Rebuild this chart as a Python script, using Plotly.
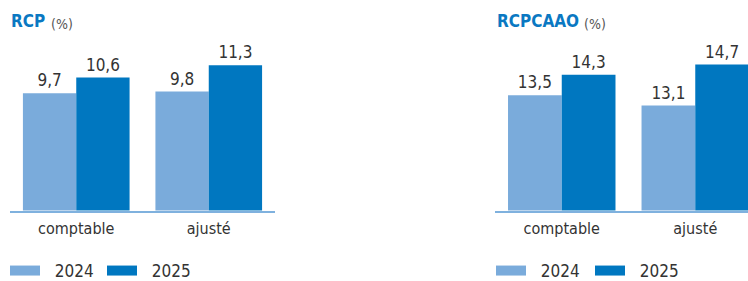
import plotly.graph_objects as go

categories = ["comptable", "ajusté"]
years = ["2024", "2025"]
rcp_2024 = [9.7, 9.8]
rcp_2025 = [10.6, 11.3]
rcpcaao_2024 = [13.5, 13.1]
rcpcaao_2025 = [14.3, 14.7]

colors = {"2024": "#7aabdb", "2025": "#0077c0"}
FONT = "DejaVu Sans Condensed, Liberation Sans Narrow, sans-serif"
TXT = "#333333"

fig = go.Figure()

panels = [
    ("x", "y", "legend", {"2024": rcp_2024, "2025": rcp_2025}),
    ("x2", "y2", "legend2", {"2024": rcpcaao_2024, "2025": rcpcaao_2025}),
]
for xa, ya, lg, series in panels:
    for yr in years:
        fig.add_trace(go.Bar(
            x=categories, y=series[yr], name=yr, xaxis=xa, yaxis=ya,
            marker=dict(color=colors[yr], line=dict(width=0)),
            texttemplate="%{y:.1f}", textposition="outside",
            textfont=dict(family=FONT, size=17, color=TXT),
            cliponaxis=False, showlegend=False,
        ))
    for yr in years:
        fig.add_trace(go.Scatter(
            x=[None], y=[None], name="\u00a0\u00a0" + yr, mode="lines", xaxis=xa, yaxis=ya,
            line=dict(color=colors[yr], width=13), legend=lg,
        ))

W, H = 748, 281
ybot = 1 - 210.5 / H
ytop = 1 - 40 / H
axcommon = dict(showgrid=False, zeroline=False, showline=True, linecolor="#7fb1de",
                linewidth=2, ticks="", tickfont=dict(family=FONT, size=16, color=TXT),
                ticklabelstandoff=2, fixedrange=True)
legcommon = dict(orientation="h", xanchor="left", y=-8 / H, yanchor="bottom",
                 font=dict(family=FONT, size=17, color=TXT), itemwidth=30,
                 entrywidthmode="pixels", bgcolor="rgba(0,0,0,0)")
fig.update_layout(
    width=W, height=H, margin=dict(l=0, r=0, t=0, b=0, autoexpand=False),
    paper_bgcolor="white", plot_bgcolor="white",
    separators=", ", barmode="group", bargap=0.195, bargroupgap=0,
    font=dict(family=FONT, color=TXT),
    xaxis=dict(domain=[10 / W, 275 / W], range=[-0.5, 1.5], **axcommon),
    xaxis2=dict(domain=[495 / W, 1], range=[-0.5, 1.395], anchor="y2", **axcommon),
    yaxis=dict(domain=[ybot, ytop], range=[3, 3 + 170.5 / 17.5], visible=False, fixedrange=True),
    yaxis2=dict(domain=[ybot, ytop], range=[9, 9 + 170.5 / 25.6], visible=False,
                fixedrange=True, anchor="x2"),
    legend=dict(x=5 / W, entrywidth=52, **legcommon),
    legend2=dict(x=491 / W, entrywidth=54, **legcommon),
    annotations=[
        dict(text="<b>RCP</b>", x=9 / W, y=1 - 21 / H, xref="paper", yref="paper",
             xanchor="left", yanchor="middle", showarrow=False,
             font=dict(family=FONT, size=17, color="#0a78c2")),
        dict(text="(%)", x=49 / W, y=1 - 24 / H, xref="paper", yref="paper",
             xanchor="left", yanchor="middle", showarrow=False,
             font=dict(family=FONT, size=14, color="#555555")),
        dict(text="<b>RCPCAAO</b>", x=495 / W, y=1 - 21 / H, xref="paper", yref="paper",
             xanchor="left", yanchor="middle", showarrow=False,
             font=dict(family=FONT, size=17, color="#0a78c2")),
        dict(text="(%)", x=582 / W, y=1 - 24 / H, xref="paper", yref="paper",
             xanchor="left", yanchor="middle", showarrow=False,
             font=dict(family=FONT, size=14, color="#555555")),
    ],
)
fig.write_html("out.html", config={"displayModeBar": False},
               post_script="document.body.style.margin='0';document.body.style.overflow='hidden';")
